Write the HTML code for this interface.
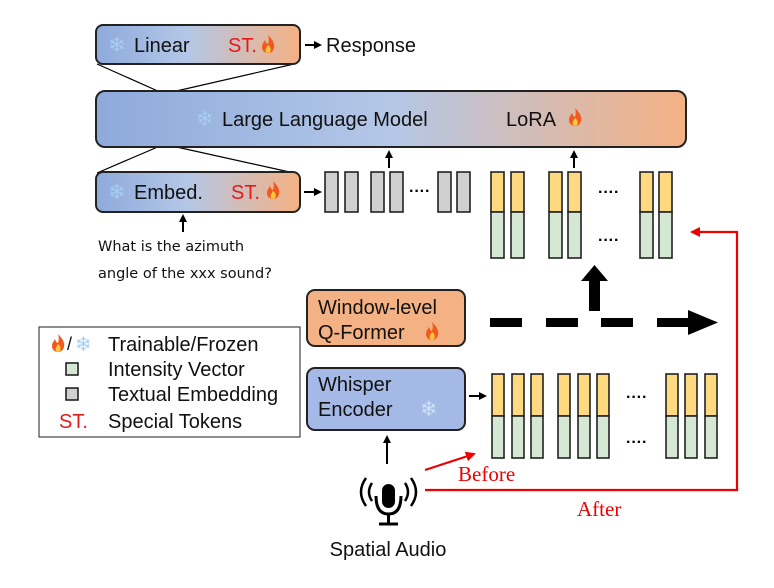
<!DOCTYPE html>
<html><head><meta charset="utf-8"><style>
html,body{margin:0;padding:0;background:#fff}
svg{display:block}
.s{font-family:"Liberation Sans",sans-serif}
.r{font-family:"Liberation Serif",serif}
.h{font-family:"DejaVu Sans",sans-serif}
</style></head><body>
<svg width="774" height="588" viewBox="0 0 774 588" xmlns="http://www.w3.org/2000/svg">
<defs>
<linearGradient id="g" x1="0" x2="1" y1="0" y2="0">
<stop offset="0" stop-color="#8eaadb"/><stop offset="0.5" stop-color="#b4c7e7"/><stop offset="1" stop-color="#f4b183"/>
</linearGradient>
<linearGradient id="g2" x1="0" x2="1" y1="0" y2="0">
<stop offset="0" stop-color="#8eaadb"/><stop offset="0.45" stop-color="#b4c7e7"/><stop offset="1" stop-color="#f4b183"/>
</linearGradient>
<g id="fire"><path d="M0,-9 C5,-4 7,0 6,4 C5,8 2,9 0,9 C-3,9 -6,7 -6,3 C-6,0 -4,-2 -3,-4 C-2,-1 -1,0 0,0 C1,-3 1,-6 0,-9 Z" fill="#f05a1e"/><path d="M0,1 C3,3 3,6 2,8 C1,9 -1,9 -2,8 C-3,6 -2,4 0,1 Z" fill="#ffc83d"/></g>
<marker id="ah" markerWidth="8" markerHeight="8" refX="6" refY="4" orient="auto" markerUnits="userSpaceOnUse"><path d="M0,0 L8,4 L0,8 Z" fill="#000"/></marker>
<marker id="ahr" markerWidth="10" markerHeight="10" refX="8" refY="5" orient="auto" markerUnits="userSpaceOnUse"><path d="M0,0 L10,5 L0,10 Z" fill="#e00"/></marker>
</defs>

<line x1="97" y1="64" x2="160" y2="92" stroke="#000" stroke-width="1.2"/>
<line x1="294" y1="64" x2="172" y2="92" stroke="#000" stroke-width="1.2"/>
<line x1="160" y1="146" x2="97" y2="173" stroke="#000" stroke-width="1.2"/>
<line x1="172" y1="146" x2="294" y2="173" stroke="#000" stroke-width="1.2"/>

<g class="s">
<rect x="96" y="25" width="204" height="39" rx="7" fill="url(#g2)" stroke="#222" stroke-width="2"/>
<text x="108" y="52" font-size="21" fill="#a8cdf0">❄</text>
<text x="134" y="52" font-size="20" fill="#111">Linear</text>
<text x="228" y="52" font-size="20" fill="#e31a1c">ST.</text>
<use href="#fire" x="268" y="44"/>
<line x1="305" y1="45" x2="320" y2="45" stroke="#000" stroke-width="2" marker-end="url(#ah)"/>
<text x="326" y="52" font-size="20" fill="#111">Response</text>

<rect x="96" y="91" width="590" height="56" rx="9" fill="url(#g)" stroke="#222" stroke-width="2"/>
<text x="196" y="126" font-size="21" fill="#a8cdf0">❄</text>
<text x="222" y="126" font-size="20" fill="#111">Large Language Model</text>
<text x="506" y="126" font-size="20" fill="#111">LoRA</text>
<use href="#fire" x="575" y="117"/>

<rect x="96" y="172" width="204" height="40" rx="7" fill="url(#g2)" stroke="#222" stroke-width="2"/>
<text x="108" y="199" font-size="21" fill="#a8cdf0">❄</text>
<text x="134" y="199" font-size="20" fill="#111">Embed.</text>
<text x="231" y="199" font-size="20" fill="#e31a1c">ST.</text>
<use href="#fire" x="273" y="190"/>
</g>
<line x1="304" y1="192" x2="320" y2="192" stroke="#000" stroke-width="2" marker-end="url(#ah)"/>
<line x1="183" y1="232" x2="183" y2="216" stroke="#000" stroke-width="2" marker-end="url(#ah)"/>
<text class="h" x="98" y="251" font-size="14.5" fill="#111">What is the azimuth</text>
<text class="h" x="98" y="278" font-size="14.5" fill="#111">angle of the xxx sound?</text>

<g fill="#d0d0d0" stroke="#222" stroke-width="1.6">
<rect x="325" y="172" width="13" height="40"/><rect x="345" y="172" width="13" height="40"/>
<rect x="371" y="172" width="13" height="40"/><rect x="390" y="172" width="13" height="40"/>
<rect x="438" y="172" width="13" height="40"/><rect x="457" y="172" width="13" height="40"/>
</g>
<text class="s" x="409" y="196" font-size="16" font-weight="bold">····</text>
<line x1="389" y1="168" x2="389" y2="152" stroke="#000" stroke-width="2" marker-end="url(#ah)"/>

<g stroke="#222" stroke-width="1.6">
<g fill="#ffd97f">
<rect x="491" y="172" width="13" height="40"/><rect x="511" y="172" width="13" height="40"/>
<rect x="549" y="172" width="13" height="40"/><rect x="568" y="172" width="13" height="40"/>
<rect x="640" y="172" width="13" height="40"/><rect x="659" y="172" width="13" height="40"/>
</g>
<g fill="#d5e8d4">
<rect x="491" y="212" width="13" height="46"/><rect x="511" y="212" width="13" height="46"/>
<rect x="549" y="212" width="13" height="46"/><rect x="568" y="212" width="13" height="46"/>
<rect x="640" y="212" width="13" height="46"/><rect x="659" y="212" width="13" height="46"/>
</g>
</g>
<text class="s" x="598" y="197" font-size="16" font-weight="bold">····</text>
<text class="s" x="598" y="245" font-size="16" font-weight="bold">····</text>
<line x1="574" y1="168" x2="574" y2="152" stroke="#000" stroke-width="2" marker-end="url(#ah)"/>

<path d="M589,311 L600,311 L600,281 L608,281 L594.5,265 L581,281 L589,281 Z" fill="#000"/>

<g class="s">
<rect x="307" y="290" width="158" height="56" rx="8" fill="#f4b183" stroke="#222" stroke-width="2"/>
<text x="318" y="314" font-size="20" fill="#111">Window-level</text>
<text x="318" y="339" font-size="20" fill="#111">Q-Former</text>
<use href="#fire" x="432" y="331"/>
</g>
<g fill="#000">
<rect x="490" y="318" width="32" height="9"/><rect x="546" y="318" width="32" height="9"/>
<rect x="601" y="318" width="32" height="9"/><rect x="657" y="318" width="33" height="9"/>
<path d="M688,310 L718,322.5 L688,335 Z"/>
</g>

<g class="s">
<rect x="39" y="327" width="261" height="110" fill="#fff" stroke="#444" stroke-width="1.2"/>
<use href="#fire" x="58" y="343"/>
<text x="67" y="350" font-size="18" fill="#111">/</text>
<text x="75" y="351" font-size="20" fill="#a8cdf0">❄</text>
<text x="108" y="351" font-size="20" fill="#111">Trainable/Frozen</text>
<rect x="66" y="363" width="12" height="12" fill="#d5e8d4" stroke="#222" stroke-width="1.6"/>
<text x="108" y="376" font-size="20" fill="#111">Intensity Vector</text>
<rect x="66" y="388" width="12" height="12" fill="#d0d0d0" stroke="#222" stroke-width="1.6"/>
<text x="108" y="401" font-size="20" fill="#111">Textual Embedding</text>
<text x="59" y="428" font-size="20" fill="#e31a1c">ST.</text>
<text x="108" y="428" font-size="20" fill="#111">Special Tokens</text>

<rect x="307" y="368" width="158" height="62" rx="8" fill="#a4b9e6" stroke="#222" stroke-width="2"/>
<text x="318" y="391" font-size="20" fill="#111">Whisper</text>
<text x="318" y="416" font-size="20" fill="#111">Encoder</text>
<text x="420" y="416" font-size="21" fill="#cfe2f6">❄</text>
</g>
<line x1="469" y1="396" x2="485" y2="396" stroke="#000" stroke-width="2" marker-end="url(#ah)"/>
<g stroke="#222" stroke-width="1.6">
<g fill="#ffd97f">
<rect x="492" y="374" width="12" height="42"/><rect x="512" y="374" width="12" height="42"/><rect x="531" y="374" width="12" height="42"/>
<rect x="558" y="374" width="12" height="42"/><rect x="578" y="374" width="12" height="42"/><rect x="597" y="374" width="12" height="42"/>
<rect x="666" y="374" width="12" height="42"/><rect x="685" y="374" width="12" height="42"/><rect x="705" y="374" width="12" height="42"/>
</g>
<g fill="#d5e8d4">
<rect x="492" y="416" width="12" height="42"/><rect x="512" y="416" width="12" height="42"/><rect x="531" y="416" width="12" height="42"/>
<rect x="558" y="416" width="12" height="42"/><rect x="578" y="416" width="12" height="42"/><rect x="597" y="416" width="12" height="42"/>
<rect x="666" y="416" width="12" height="42"/><rect x="685" y="416" width="12" height="42"/><rect x="705" y="416" width="12" height="42"/>
</g>
</g>
<text class="s" x="626" y="402" font-size="16" font-weight="bold">····</text>
<text class="s" x="626" y="447" font-size="16" font-weight="bold">····</text>

<line x1="387" y1="464" x2="387" y2="437" stroke="#000" stroke-width="2" marker-end="url(#ah)"/>
<rect x="382" y="484" width="13" height="24" rx="6.5" fill="#000"/>
<path d="M376,496 Q376,514 388.5,514 Q401,514 401,496" fill="none" stroke="#000" stroke-width="3"/>
<line x1="388.5" y1="514" x2="388.5" y2="523" stroke="#000" stroke-width="3"/>
<line x1="379" y1="524" x2="398" y2="524" stroke="#000" stroke-width="3"/>
<g fill="none" stroke="#000" stroke-width="2.5">
<path d="M372,483 Q366,492 372,501"/><path d="M366,478 Q356,492 366,506"/>
<path d="M405,483 Q411,492 405,501"/><path d="M411,478 Q421,492 411,506"/>
</g>
<text class="s" x="388" y="556" font-size="20" fill="#111" text-anchor="middle">Spatial Audio</text>

<line x1="425" y1="470" x2="474" y2="454" stroke="#e00" stroke-width="2.2" marker-end="url(#ahr)"/>
<text class="r" x="458" y="481" font-size="21" fill="#e00">Before</text>
<polyline points="425,490 737,490 737,232 692,232" fill="none" stroke="#e00" stroke-width="2.2" marker-end="url(#ahr)"/>
<text class="r" x="577" y="516" font-size="21" fill="#e00">After</text>
</svg>
</body></html>
